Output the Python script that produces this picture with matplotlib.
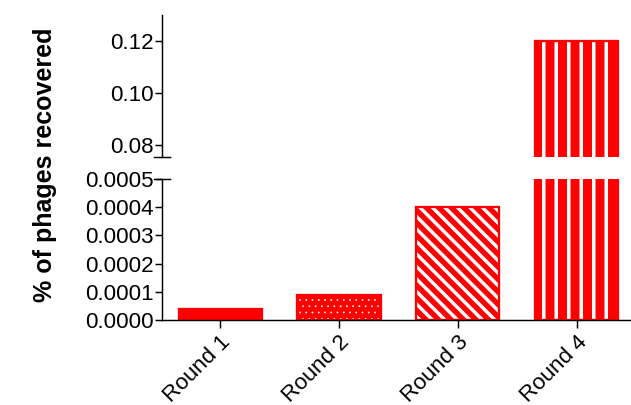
import matplotlib
matplotlib.use("Agg")
import matplotlib.pyplot as plt
import numpy as np

rounds = ["Round 1", "Round 2", "Round 3", "Round 4"]
recovered = [0.00004, 0.00009, 0.0004, 0.12]
hatches = ["", "..", "\\\\", "|"]
hatch_lw = [1.0, 0.5, 3.3, 3.4]

low_ticks = [0.0000, 0.0001, 0.0002, 0.0003, 0.0004, 0.0005]
high_ticks = [0.08, 0.10, 0.12]

DPI = 75
plt.rcParams["font.family"] = ["Liberation Sans", "DejaVu Sans"]
fs = 21.5

fig = plt.figure(figsize=(631 / DPI, 405 / DPI), dpi=DPI)
ax_hi = fig.add_axes([162 / 631, 1 - 157 / 405, (630 - 162) / 631, (157 - 15) / 405])
ax_lo = fig.add_axes([162 / 631, 1 - 320 / 405, (630 - 162) / 631, (320 - 179) / 405])

x = np.arange(len(rounds))
red = "#ff0000"

for ax in (ax_lo, ax_hi):
    for xi, v, h, hl in zip(x, recovered, hatches, hatch_lw):
        with plt.rc_context({"hatch.linewidth": hl}):
            ax.bar(xi, v, width=0.7, color=red, edgecolor="white", linewidth=0, hatch=h)
        ax.bar(xi, v, width=0.7, fill=False, edgecolor=red, linewidth=2.2)
    ax.set_xlim(-0.49, 3.45)
    for s in ("top", "right"):
        ax.spines[s].set_visible(False)
    ax.spines["left"].set_linewidth(1.4)
    ax.spines["bottom"].set_linewidth(1.4)
    ax.tick_params(axis="y", length=7, width=1.4, labelsize=fs, pad=1)

ax_lo.set_ylim(0, 0.0005)
ax_lo.set_yticks(low_ticks)
ax_lo.set_yticklabels([f"{t:.4f}" for t in low_ticks])
ax_lo.set_xticks(x)
ax_lo.set_xticklabels(rounds, rotation=45, ha="right", rotation_mode="anchor", fontsize=fs)
ax_lo.tick_params(axis="x", length=8, width=1.4, pad=3)

ax_hi.set_ylim(0.0754, 0.130)
ax_hi.set_yticks(high_ticks)
ax_hi.set_yticklabels([f"{t:.2f}" for t in high_ticks])
ax_hi.spines["bottom"].set_visible(False)
ax_hi.set_xticks([])

# break caps
ax_lo.plot([-0.018, 0.018], [1, 1], transform=ax_lo.transAxes, color="black", lw=1.4, clip_on=False)
ax_hi.plot([-0.018, 0.018], [0, 0], transform=ax_hi.transAxes, color="black", lw=1.4, clip_on=False)

fig.text(45 / 631, 1 - 165 / 405, "% of phages recovered", rotation=90, fontsize=24,
         fontweight="bold", ha="center", va="center")

fig.savefig("out.png", dpi=DPI)
